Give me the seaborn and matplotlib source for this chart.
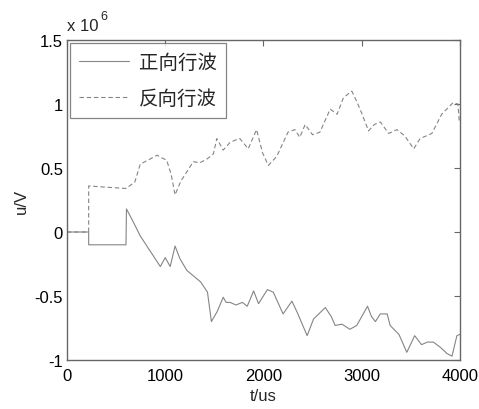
import matplotlib
matplotlib.use("Agg")
import matplotlib.pyplot as plt
import seaborn as sns
import pandas as pd

# forward wave (solid), t in us, u in 1e6 V
t_fwd = [0, 220, 220, 600, 605, 660, 745, 830, 950, 1000, 1050, 1100, 1150, 1220,
         1360, 1430, 1470, 1530, 1590, 1620, 1660, 1720, 1785, 1835, 1900, 1950,
         2040, 2100, 2200, 2290, 2345, 2445, 2510, 2630, 2690, 2730, 2800, 2880,
         2950, 3060, 3100, 3140, 3190, 3260, 3290, 3380, 3460, 3540, 3610, 3670,
         3730, 3800, 3870, 3920, 3970, 4000]
u_fwd = [0, 0, -0.1, -0.1, 0.18, 0.10, -0.03, -0.13, -0.27, -0.20, -0.27, -0.11,
         -0.21, -0.30, -0.39, -0.47, -0.70, -0.62, -0.51, -0.55, -0.55, -0.57,
         -0.55, -0.58, -0.46, -0.56, -0.45, -0.47, -0.64, -0.54, -0.63, -0.81,
         -0.68, -0.59, -0.66, -0.73, -0.72, -0.76, -0.73, -0.58, -0.66, -0.70,
         -0.64, -0.64, -0.73, -0.80, -0.94, -0.81, -0.88, -0.86, -0.86, -0.90,
         -0.95, -0.97, -0.81, -0.80]

# backward wave (dashed)
t_bwd = [0, 220, 220, 400, 600, 690, 745, 845, 915, 1015, 1060, 1100, 1160, 1220,
         1285, 1350, 1425, 1490, 1525, 1590, 1660, 1720, 1760, 1845, 1930, 1990,
         2050, 2135, 2250, 2320, 2370, 2425, 2500, 2575, 2680, 2750, 2815, 2900,
         2950, 3000, 3070, 3130, 3190, 3275, 3360, 3440, 3530, 3595, 3715, 3815,
         3930, 3980, 3995]
u_bwd = [0, 0, 0.36, 0.35, 0.34, 0.39, 0.53, 0.57, 0.60, 0.56, 0.45, 0.29, 0.40,
         0.47, 0.55, 0.54, 0.57, 0.61, 0.73, 0.64, 0.70, 0.72, 0.73, 0.65, 0.80,
         0.62, 0.52, 0.59, 0.78, 0.80, 0.74, 0.84, 0.76, 0.78, 0.96, 0.92, 1.05,
         1.10, 1.02, 0.93, 0.79, 0.84, 0.86, 0.77, 0.80, 0.75, 0.65, 0.73, 0.77,
         0.92, 1.01, 1.00, 0.86]

labels = ["正向行波", "反向行波"]

sns.set_style("white")
plt.rcParams['font.family'] = ['Liberation Sans', 'DejaVu Sans']

fig = plt.figure(figsize=(4.79, 4.10), dpi=100)
ax = fig.add_axes([0.140, 0.1195, 0.820, 0.7805])

df_f = pd.DataFrame({"t": t_fwd, "u": u_fwd})
df_b = pd.DataFrame({"t": t_bwd, "u": u_bwd})
sns.lineplot(data=df_f, x="t", y="u", ax=ax, estimator=None, sort=False,
             color="#858585", linewidth=0.8, label=labels[0])
sns.lineplot(data=df_b, x="t", y="u", ax=ax, estimator=None, sort=False,
             color="#858585", linewidth=0.8, linestyle=(0, (4, 2.5)), label=labels[1])

ax.set_xlim(0, 4000)
ax.set_ylim(-1, 1.5)
ax.set_xticks([0, 1000, 2000, 3000, 4000])
ax.set_yticks([-1, -0.5, 0, 0.5, 1, 1.5])
ax.set_yticklabels(["-1", "-0.5", "0", "0.5", "1", "1.5"])
ax.tick_params(direction="in", length=4, width=0.8, colors="#666666",
               labelcolor="black", labelsize=12, top=True, right=True)
ax.tick_params(axis="x", pad=6)
ax.tick_params(axis="y", pad=3)
for s in ax.spines.values():
    s.set_color("#666666")
    s.set_linewidth(1.0)

ax.set_xlabel("t/us", fontsize=12, labelpad=3)
ax.set_ylabel("u/V", fontsize=12, labelpad=4)

fig.text(0.140, 0.918, "x 10", fontsize=12, ha="left", va="bottom")
fig.text(0.209, 0.944, "6", fontsize=9, ha="left", va="bottom")

leg = ax.legend(loc="upper left", prop={"family": ["Noto Sans CJK SC", "DejaVu Sans"], "size": 14},
                frameon=True, fancybox=False, borderaxespad=0.15, handlelength=2.6,
                handletextpad=0.5, borderpad=0.45, labelspacing=0.8)
leg.get_frame().set_edgecolor("#666666")
leg.get_frame().set_linewidth(0.9)

fig.savefig("out.png", dpi=100)
